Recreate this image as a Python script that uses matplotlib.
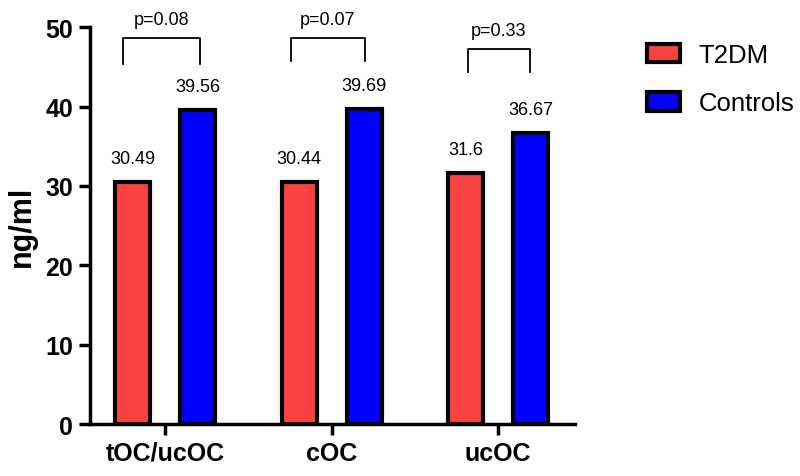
import matplotlib.pyplot as plt
import numpy as np

groups = ["tOC/ucOC", "cOC", "ucOC"]
t2dm = [30.49, 30.44, 31.6]
controls = [39.56, 39.69, 36.67]
pvals = ["p=0.08", "p=0.07", "p=0.33"]

plt.rcParams['font.family'] = ['Liberation Sans', 'DejaVu Sans']

fig = plt.figure(figsize=(8, 4.77), dpi=100)
ax = fig.add_axes([0.1125, 0.109, 0.606, 0.832])

x = np.arange(len(groups))
w = 0.21
off = 0.195
b1 = ax.bar(x - off, t2dm, w, color='#FA4242', edgecolor='black', linewidth=3, label='T2DM', zorder=3)
b2 = ax.bar(x + off, controls, w, color='#0000FF', edgecolor='black', linewidth=3, label='Controls', zorder=3)

for bars, vals in [(b1, t2dm), (b2, controls)]:
    for r, v in zip(bars, vals):
        ax.annotate(f"{v:g}", (r.get_x() + r.get_width() / 2, v), xytext=(0, 11),
                    textcoords='offset points', ha='center', va='bottom', fontsize=13)

# significance brackets
br_x = [(-0.25, 0.21), (-0.245, 0.2), (-0.18, 0.19)]
br_y = [(45.3, 48.6), (45.7, 48.6), (44.3, 47.2)]
for i, p in enumerate(pvals):
    x0, x1 = i + br_x[i][0], i + br_x[i][1]
    lo, hi = br_y[i]
    ax.plot([x0, x0, x1, x1], [lo, hi, hi, lo], color='black', lw=1.3, clip_on=False)
    ax.text((x0 + x1) / 2, hi + 1.3, p, ha='center', va='bottom', fontsize=13, clip_on=False)

ax.set_xlim(-0.45, 2.46)
ax.set_ylim(0, 50)
ax.set_yticks([0, 10, 20, 30, 40, 50])
ax.set_xticks(x)
ax.set_xticklabels(groups, fontsize=18, fontweight='bold')
for lab in ax.get_yticklabels():
    lab.set_fontsize(18)
    lab.set_fontweight('bold')
ax.tick_params(axis='both', width=2.5, length=8, direction='out', pad=4)
ax.set_ylabel('ng/ml', fontsize=22, fontweight='bold', labelpad=6)

for s in ['top', 'right']:
    ax.spines[s].set_visible(False)
for s in ['left', 'bottom']:
    ax.spines[s].set_linewidth(2.5)

leg = fig.legend(handles=[b1, b2], loc='upper left', bbox_to_anchor=(647 / 800, 1 - 44 / 477),
                 frameon=False, fontsize=18.5, borderpad=0, borderaxespad=0, handlelength=1.3,
                 handleheight=0.75, labelspacing=0.95, handletextpad=0.7)

fig.savefig('out.png', dpi=100)
